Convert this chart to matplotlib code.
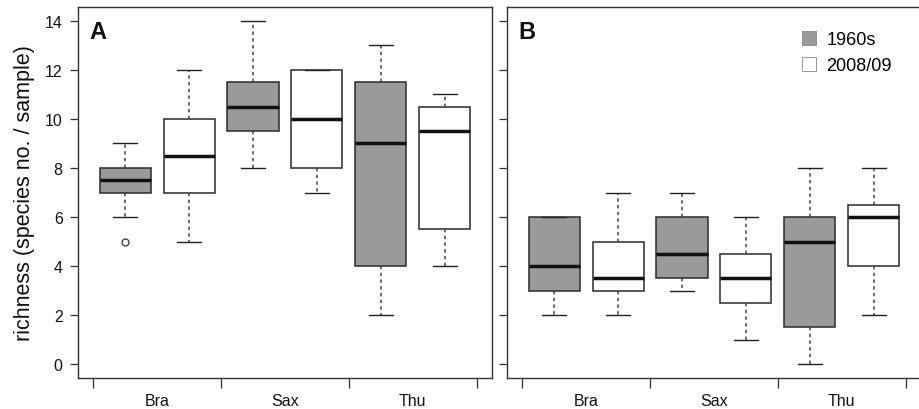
import matplotlib
matplotlib.use("Agg")
import matplotlib.pyplot as plt
from matplotlib.patches import Patch

plt.rcParams['font.family'] = ['Liberation Sans', 'DejaVu Sans']

regions = ["Bra", "Sax", "Thu"]
periods = ["1960s", "2008/09"]

# Panel A: order Bra-1960s, Bra-2008/09, Sax-1960s, Sax-2008/09, Thu-1960s, Thu-2008/09
a_whislo = [6, 5, 8, 7, 2, 4]
a_q1     = [7, 7, 9.5, 8, 4, 5.5]
a_med    = [7.5, 8.5, 10.5, 10, 9, 9.5]
a_q3     = [8, 10, 11.5, 12, 11.5, 10.5]
a_whishi = [9, 12, 14, 12, 13, 11]
a_fliers = [[5], [], [], [], [], []]

# Panel B
b_whislo = [2, 2, 3, 1, 0, 2]
b_q1     = [3, 3, 3.5, 2.5, 1.5, 4]
b_med    = [4, 3.5, 4.5, 3.5, 5, 6]
b_q3     = [6, 5, 6, 4.5, 6, 6.5]
b_whishi = [6, 7, 7, 6, 8, 8]
b_fliers = [[], [], [], [], [], []]

yticks = [0, 2, 4, 6, 8, 10, 12, 14]
colors = ["#9a9a9a", "#ffffff"]
edge = "#2a2a2a"

W, H = 920, 410
fig = plt.figure(figsize=(W / 100, H / 100), dpi=100)
axA = fig.add_axes([78 / W, (H - 379) / H, (492 - 78) / W, (379 - 8) / H])
axB = fig.add_axes([507 / W, (H - 379) / H, (921 - 507) / W, (379 - 8) / H])


def draw(ax, whislo, q1, med, q3, whishi, fliers, label, show_ylabels):
    stats = []
    for i in range(len(med)):
        stats.append(dict(whislo=whislo[i], q1=q1[i], med=med[i], q3=q3[i],
                          whishi=whishi[i], fliers=fliers[i]))
    pos = list(range(1, len(stats) + 1))
    bp = ax.bxp(stats, positions=pos, widths=0.8, patch_artist=True,
                capwidths=0.38, showfliers=True,
                boxprops=dict(edgecolor=edge, linewidth=1.1),
                medianprops=dict(color="#111111", linewidth=2.5, solid_capstyle="butt"),
                whiskerprops=dict(color="#444444", linewidth=1.1, linestyle=(0, (2.2, 2.2))),
                capprops=dict(color="#222222", linewidth=1.0),
                flierprops=dict(marker="o", markersize=5, markerfacecolor="none",
                                markeredgecolor="#333333", markeredgewidth=0.9))
    for i, b in enumerate(bp["boxes"]):
        b.set_facecolor(colors[i % 2])
    ax.set_xlim(0.26, 6.74)
    ax.set_ylim(-0.56, 14.56)
    ax.set_yticks(yticks)
    if show_ylabels:
        ax.set_yticklabels([str(t) for t in yticks], fontsize=11.5)
        ax.set_ylabel("richness (species no. / sample)", fontsize=15.5, labelpad=7,
                      color="#111111")
    else:
        ax.set_yticklabels([])
    ax.set_xticks([0.5, 2.5, 4.5, 6.5])
    ax.set_xticklabels([])
    ax.set_xticks([1.5, 3.5, 5.5], minor=True)
    ax.set_xticklabels(regions, minor=True, fontsize=11.5)
    ax.tick_params(axis="x", which="major", length=7, width=0.9, color="#333333")
    ax.tick_params(axis="x", which="minor", length=0, pad=11, labelcolor="#111111")
    ax.tick_params(axis="y", length=6, width=0.9, color="#333333", pad=5,
                   labelcolor="#111111")
    for s in ax.spines.values():
        s.set_color("#333333")
        s.set_linewidth(1.0)
    ax.text(0.028, 0.965, label, transform=ax.transAxes, fontsize=17,
            fontweight="bold", va="top", ha="left", color="#111111")


draw(axA, a_whislo, a_q1, a_med, a_q3, a_whishi, a_fliers, "A", True)
draw(axB, b_whislo, b_q1, b_med, b_q3, b_whishi, b_fliers, "B", False)

handles = [Patch(facecolor=colors[0], edgecolor="#888888", linewidth=0.6, label=periods[0]),
           Patch(facecolor=colors[1], edgecolor="#888888", linewidth=0.6, label=periods[1])]
axB.legend(handles=handles, loc="upper right", bbox_to_anchor=(0.947, 0.955),
           frameon=False, fontsize=13, handlelength=0.8, handleheight=0.8,
           handletextpad=0.55, labelspacing=0.5, borderaxespad=0)

fig.savefig("out.png", dpi=100)
